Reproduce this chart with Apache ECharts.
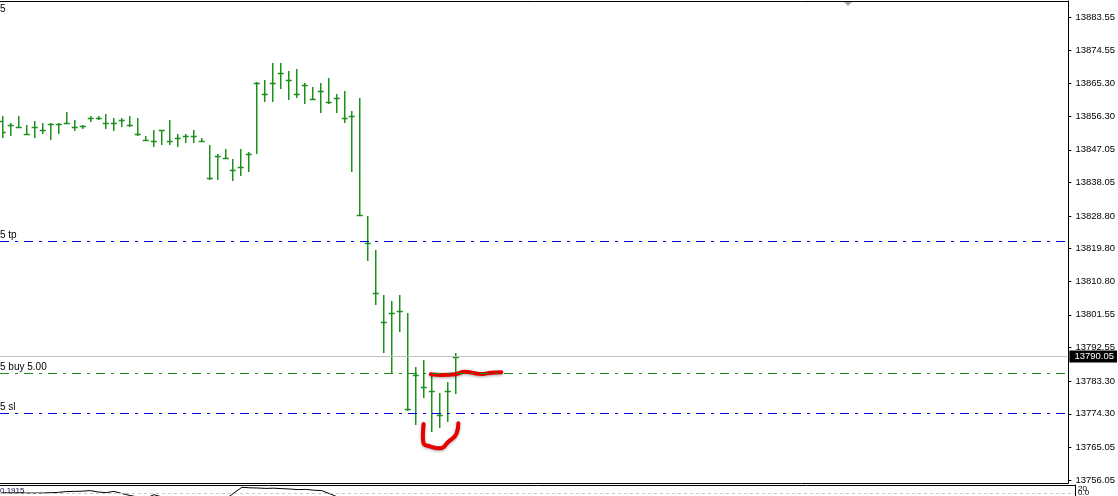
<!DOCTYPE html>
<html>
<head>
<meta charset="utf-8">
<script src="https://cdn.jsdelivr.net/npm/echarts@6/dist/echarts.min.js"></script>
<style>
html,body{margin:0;padding:0;background:#fff;}
#chart{width:1118px;height:496px;}
</style>
</head>
<body>
<div id="chart"></div>
<script>
// ---- DATA ----
const opens  = [13855.00,13853.87,13853.24,13851.31,13853.32,13852.41,13854.07,13854.07,13854.34,13853.24,13853.68,13855.80,13855.80,13854.34,13854.34,13855.33,13853.79,13851.31,13849.66,13849.38,13852.41,13849.38,13850.37,13850.92,13850.92,13849.38,13839.18,13845.41,13844.70,13841.39,13842.30,13845.96,13865.45,13862.41,13865.36,13868.12,13866.19,13862.33,13864.98,13861.12,13863.16,13860.13,13861.23,13855.72,13856.27,13829.15,13821.27,13807.50,13799.50,13801.98,13802.54,13775.53,13784.98,13781.59,13780.49,13773.88,13780.49,13790.05];
const highs  = [13856.35,13854.34,13856.35,13853.79,13854.97,13854.42,13854.34,13854.42,13857.45,13855.25,13853.95,13856.35,13856.35,13856.90,13855.80,13855.88,13856.35,13855.88,13850.84,13852.49,13852.49,13855.25,13851.31,13851.31,13852.41,13850.37,13848.36,13845.88,13847.26,13844.50,13847.26,13846.51,13865.64,13866.27,13870.96,13870.96,13868.75,13869.30,13865.45,13864.43,13865.45,13866.82,13862.50,13863.24,13857.73,13861.23,13828.80,13819.43,13807.03,13805.37,13807.03,13801.98,13787.27,13789.12,13785.18,13779.94,13782.97,13790.96];
const lows   = [13850.65,13851.20,13853.24,13851.31,13850.65,13851.75,13850.10,13851.75,13854.34,13852.58,13853.13,13855.06,13855.61,13853.13,13852.58,13853.68,13853.68,13851.20,13849.66,13848.17,13848.72,13848.72,13848.17,13849.27,13849.27,13849.38,13839.07,13839.07,13844.70,13838.80,13840.18,13841.28,13846.24,13860.57,13860.57,13864.15,13861.12,13861.67,13860.02,13861.12,13857.54,13860.02,13857.54,13854.78,13841.28,13829.07,13816.67,13804.46,13791.40,13785.89,13797.19,13775.34,13771.48,13778.84,13769.47,13770.57,13772.39,13779.94];
const closes = [13851.86,13853.87,13853.24,13851.31,13853.32,13852.41,13854.07,13854.07,13854.34,13853.24,13853.68,13855.80,13855.80,13854.34,13854.34,13855.33,13853.79,13851.31,13849.66,13849.38,13852.41,13849.38,13850.37,13850.92,13850.92,13849.38,13839.18,13845.41,13844.70,13841.39,13842.30,13845.96,13865.45,13862.41,13865.36,13868.12,13866.19,13862.33,13864.98,13861.12,13863.16,13860.13,13861.23,13855.72,13856.27,13829.15,13821.27,13807.50,13799.50,13801.98,13802.54,13775.53,13784.98,13781.59,13780.49,13773.88,13780.49,13790.05];

const priceTicks = [13883.55,13874.55,13865.30,13856.30,13847.05,13838.05,13828.80,13819.80,13810.80,13801.55,13792.55,13783.30,13774.30,13765.05,13756.05];

const currentPrice = 13790.05;
const tpLevel  = 13821.85;
const buyLevel = 13785.45;
const slLevel  = 13774.43;

// lower indicator window values (per bar)
const indicator = [3.2,3.0,3.1,3.0,2.9,3.0,3.3,3.6,4.4,4.6,4.8,5.4,4.0,3.4,4.6,2.4,0.5,-1,-2,1.3,-1,-3,-3,-3,-3,-3,-3,-3,-3,3.0,8.7,8.2,8.0,7.6,7.8,7.4,7.0,6.4,6.6,5.8,5.4,2.3,-1,-3,-3,-3,-3,-3,-3,-3,-3,-3,-3,-3,-3,-3,-3,-3];
const indicatorLevel = 3;

// hand-drawn red annotations (bar index, price)
const redLine = [[54.0,13785.18],[55.37,13784.98],[57.05,13785.18],[58.3,13785.89],[59.55,13785.45],[60.37,13785.26],[61.62,13785.62],[62.87,13785.73]];
const redHook = [[53.08,13771.48],[53.0,13767.98],[53.08,13766.16],[53.71,13765.42],[55.17,13764.79],[56.21,13766.6],[57.25,13768.92],[57.46,13771.67]];

// ---- CHART ----
const FONT = 'Liberation Sans';
const GREEN = '#1c8f1c';
const ohlc = opens.map((o,i)=>[i,o,highs[i],lows[i],closes[i]]);
const chart = echarts.init(document.getElementById('chart'), null, {renderer:'canvas'});

const X_MIN = -0.291, X_MAX = 134.334;

function renderBar(params, api){
  const i = api.value(0);
  const px = v => api.coord([i, v]);
  const x = Math.round(px(api.value(1))[0]) + 0.75;
  const yo = Math.round(px(api.value(1))[1]) + 0.5;
  const yh = px(api.value(2))[1];
  const yl = px(api.value(3))[1];
  const yc = Math.round(px(api.value(4))[1]) + 0.5;
  const st = {stroke: GREEN, lineWidth: 1.5};
  return {type:'group', children:[
    {type:'line', shape:{x1:x,y1:Math.round(yh),x2:x,y2:Math.round(yl)+1}, style:st},
    {type:'line', shape:{x1:x-3,y1:yo,x2:x,y2:yo}, style:st},
    {type:'line', shape:{x1:x,y1:yc,x2:x+3,y2:yc}, style:st}
  ]};
}

function levelLine(value, color, text){
  return {
    yAxis: value,
    lineStyle: {color: color, type: [9,6,3,6], width: 1},
    label: text ? {show:true, formatter:text, position:'insideStartTop', distance:[0,1], color:'#000', fontSize:10, fontFamily:FONT, padding:0} : {show:false}
  };
}

function frameAxis(grid, pos){
  return {type:'value', gridIndex:grid, position:pos, min:X_MIN, max:X_MAX,
    axisLine:{show:true, onZero:false, lineStyle:{color:'#000', width:1}},
    axisTick:{show:false}, axisLabel:{show:false}, splitLine:{show:false}};
}

const option = {
  animation: false,
  backgroundColor: '#ffffff',
  grid: [
    {left:-2, right:43, top:1, bottom:13, show:false},
    {left:-2, right:43, top:485, height:11, show:false}
  ],
  xAxis: [
    frameAxis(0, 'bottom'),
    frameAxis(1, 'top'),
    frameAxis(0, 'top')
  ],
  yAxis: [
    {type:'value', gridIndex:0, position:'right', min:13755.22, max:13888.04,
     axisLine:{show:true, onZero:false, lineStyle:{color:'#000'}},
     axisTick:{show:true, length:3, inside:false, customValues:priceTicks, lineStyle:{color:'#000'}},
     axisLabel:{show:true, customValues:priceTicks, margin:7, fontSize:9.5, fontFamily:FONT, color:'#000', formatter:v=>v.toFixed(2)},
     splitLine:{show:false}},
    {type:'value', gridIndex:1, position:'right', min:0, max:11,
     axisLine:{show:true, onZero:false, lineStyle:{color:'#000'}},
     axisTick:{show:false}, axisLabel:{show:false}, splitLine:{show:false}}
  ],
  series: [
    {
      type:'line', xAxisIndex:0, yAxisIndex:0, data:[], symbol:'none', silent:true,
      markLine:{
        silent:true, symbol:['none','none'], animation:false,
        data:[
          levelLine(tpLevel, '#0000e0', '5 tp'),
          levelLine(buyLevel, '#1a8a1a', '5 buy 5.00'),
          levelLine(slLevel, '#0000e0', '5 sl'),
          {yAxis: currentPrice, lineStyle:{color:'#c0c0c0', type:'solid', width:1},
           label:{show:true, position:'end', distance:1, formatter:()=>currentPrice.toFixed(2), backgroundColor:'#000', color:'#fff', fontSize:9.5, fontFamily:FONT, padding:[1,3,1,5]}}
        ]
      }
    },
    {
      type:'custom', xAxisIndex:0, yAxisIndex:0, data:ohlc, renderItem:renderBar, clip:true, silent:true,
      encode:{x:0, y:[1,2,3,4]}
    },
    {
      type:'line', xAxisIndex:0, yAxisIndex:0, data:redLine, smooth:true, symbol:'none', silent:true,
      lineStyle:{color:'#e60000', width:4, cap:'round', join:'round', shadowBlur:3, shadowColor:'rgba(0,0,0,0.35)', shadowOffsetY:1}
    },
    {
      type:'line', xAxisIndex:0, yAxisIndex:0, data:redHook, smooth:true, symbol:'none', silent:true,
      lineStyle:{color:'#e60000', width:4, cap:'round', join:'round', shadowBlur:3, shadowColor:'rgba(0,0,0,0.35)', shadowOffsetY:1}
    },
    {
      type:'line', xAxisIndex:1, yAxisIndex:1, data:indicator.map((v,i)=>[i,v]), symbol:'none', silent:true, clip:true,
      lineStyle:{color:'#000', width:1},
      markLine:{silent:true, symbol:['none','none'], label:{show:false},
        data:[{yAxis:indicatorLevel, lineStyle:{color:'#c8c8c8', type:[3,3], width:1}}]}
    }
  ],
  graphic: [
    {type:'text', left:0, top:4, style:{text:'5', fontSize:10, fontFamily:FONT, fill:'#000'}},
    {type:'polygon', shape:{points:[[844,2],[852,2],[848,6]]}, style:{fill:'#a8a8a8'}},
    {type:'text', left:0, top:487, style:{text:'0.1915', fontSize:8, fontFamily:FONT, fill:'#0a0a50'}},
    {type:'text', left:1078, top:485, style:{text:'20', fontSize:8, fontFamily:FONT, fill:'#000'}},
    {type:'text', left:1078, top:489, style:{text:'0.0', fontSize:8, fontFamily:FONT, fill:'#000'}}
  ]
};
chart.setOption(option);
</script>
</body>
</html>
